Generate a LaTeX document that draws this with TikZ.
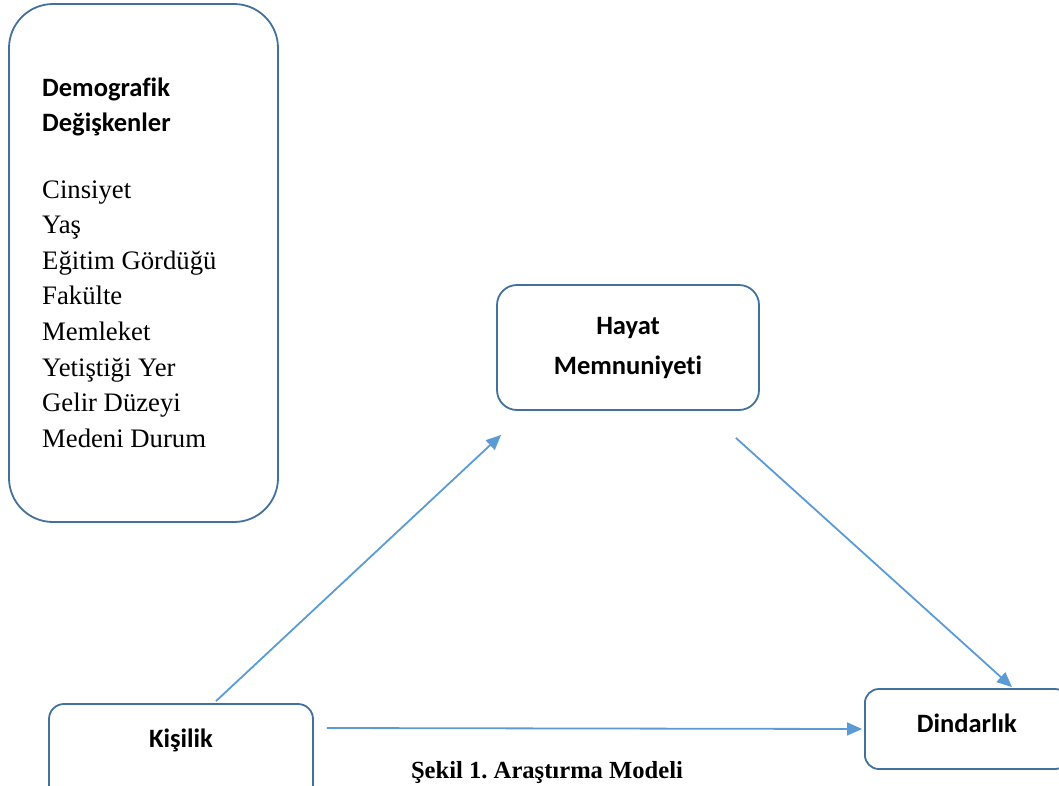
\documentclass[tikz,border=0pt]{standalone}
\usepackage{fontspec}
\setmainfont{Liberation Serif}
\newfontfamily\calfont[Ligatures={NoCommon,NoRare,NoDiscretionary}]{Carlito}
\usetikzlibrary{arrows.meta,calc}
\definecolor{boxblue}{HTML}{41719C}
\definecolor{arrblue}{HTML}{5B9BD5}
\newcommand{\hsans}{\calfont\bfseries\fontsize{26.5}{35.5}\selectfont}
\newcommand{\lser}{\normalfont\fontsize{26.7}{35.6}\selectfont}
\frenchspacing
\begin{document}
\begin{tikzpicture}[x=1pt,y=-1pt,
  box/.style={draw=boxblue, line width=1.8pt, fill=white, inner sep=0pt},
  sanslab/.style={font=\calfont\bfseries\fontsize{26.5}{40}\selectfont},
  conn/.style={draw=arrblue, line width=1.8pt, -{Triangle[length=15pt,width=13pt]}}]
\useasboundingbox (0,0) rectangle (1059,785);
\clip (0,0) rectangle (1059,785);
% demographic box
\node[box, rounded corners=44pt, minimum width=269pt, minimum height=518pt] (demo) at (143.5,263) {};
\node[anchor=north west, align=left, inner sep=0pt, font=\lser] (demotext) at (42,77.5)
  {\hsans Demografik\\ \hsans Değişkenler\\[30.5pt]
   \lser Cinsiyet\\ \lser Yaş\\ \lser Eğitim Gördüğü\\ \lser Fakülte\\ \lser Memleket\\ \lser Yetiştiği Yer\\ \lser Gelir Düzeyi\\ \lser Medeni Durum};
% hayat
\node[box, sanslab, rounded corners=20pt, minimum width=262pt, minimum height=125pt, align=center] (hayat) at (628,347.5) {Hayat\\ Memnuniyeti};
% kisilik
\node[box, sanslab, rounded corners=15pt, minimum width=264pt, text height=43pt, text depth=53pt, anchor=base] (kis) at (181,747) {Kişilik};
% dindarlik
\node[box, sanslab, rounded corners=14pt, minimum width=204pt, text height=43pt, text depth=37pt, anchor=base west] (din) at (864,732) {Dindarlık};
% connectors
\draw[conn] ($(kis.north)+(35,-2)$) -- ($(hayat.south west)+(5,24)$);
\draw[conn] ($(hayat.south east)+(-24,27)$) -- ($(din.north west)+(148,-1)$);
\draw[conn] ($(kis.east)+(13,-24)$) -- ($(din.west)+(-2,0)$);
% caption
\node[anchor=base, inner sep=0pt, font=\bfseries\fontsize{24.6}{28}\selectfont] (cap) at (547,778) {Şekil 1. Araştırma Modeli};
\end{tikzpicture}
\end{document}
